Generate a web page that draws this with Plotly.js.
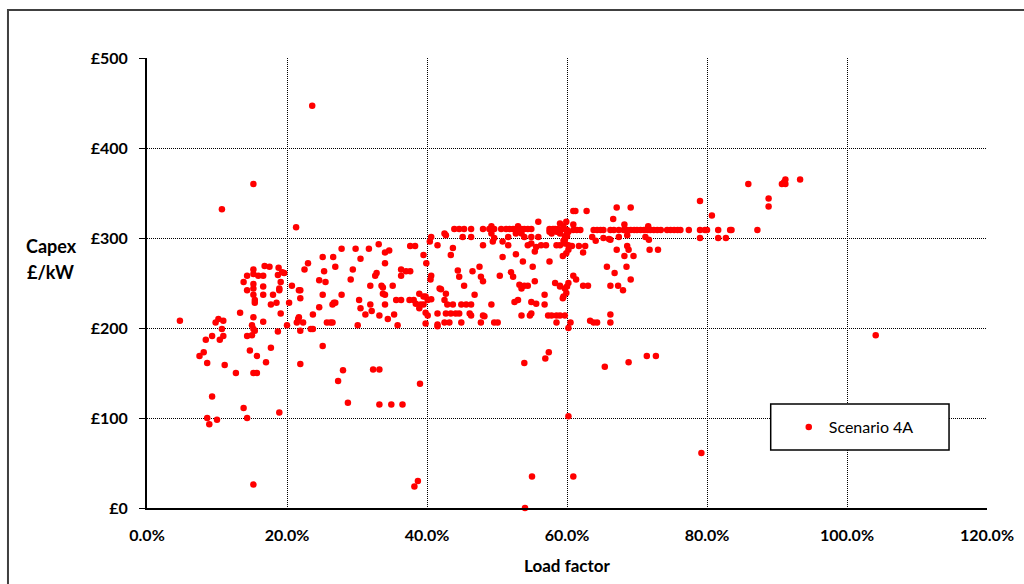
<!DOCTYPE html>
<html><head><meta charset="utf-8">
<script src="https://cdn.plot.ly/plotly-3.0.1.min.js"></script>
<style>html,body{margin:0;padding:0;background:#fff}#chart{width:1024px;height:584px}</style>
</head><body><div id="chart"></div><script>
// Load factor (%) and Capex (£/kW), grouped by region
const lfSparse = [23.6,15.2,10.7,21.3,4.7,15.2,38.2,38.7,54.0,55.0,60.9,60.2,79.2,53.9,56.9,57.4,65.4,68.8,71.4,72.7,39.0,18.9,104.1,9.3,13.8,14.3,8.6,8.9,10.0,27.3,28.7,32.3,33.2,33.2,34.9,36.5];
const capexSparse = [447,360,332,312,208,26,24,30,0,35,35,102,61,161,166,173,157,162,169,169,138,106,192,124,111,100,100,93,98,141,117,154,154,115,115,115];

const lfLow = [15.2,16.8,17.5,14.3,15.2,15.9,16.6,13.8,15.2,16.6,
  14.3,15.2,15.2,16.6,15.4,15.4,18.0,17.7,18.5,18.8,
  18.7,19.3,19.6,19.1,18.9,18.9,20.3,21.7,13.3,15.2,
  15.0,15.2,15.4,15.0,14.3,14.7,15.7,16.6,17.7,17.0,
  18.7,19.1,20.0,21.7,9.8,10.2,10.9,10.7,9.3,8.4,
  10.4,10.9,8.1,7.5,8.6,11.1,12.7,15.2,15.7];
const capexLow = [265,269,268,258,260,258,258,251,249,246,
  242,244,237,237,228,231,237,226,228,267,
  259,262,261,251,244,242,228,242,217,212,
  203,199,197,192,191,175,169,207,178,162,
  196,216,203,212,206,210,208,199,191,187,
  187,191,173,169,161,159,150,150,150];

const lfMid = [27.8,29.8,31.7,33.1,34.0,34.6,25.1,26.6,30.5,23.0,
  22.5,26.9,25.3,29.4,29.1,34.0,32.8,32.6,24.6,25.5,
  31.9,33.5,33.7,35.1,20.7,21.9,21.9,25.1,27.8,33.7,
  34.0,36.3,37.0,37.6,36.3,37.6,38.3,39.5,39.9,40.5,
  40.6,40.4,40.6,38.9,39.5,39.8,35.6,36.3,37.5,38.1,
  38.4,39.1,38.9,39.5,26.7,26.5,26.9,24.6,23.7,30.3,
  30.5,31.9,32.1,31.2,34.0,33.2,34.4,35.3,35.8,30.1,
  21.6,21.4,22.3,21.9,23.4,23.7,25.7,26.2,26.5,25.1,
  21.9,28.0,39.8,41.8];
const capexMid = [288,288,288,293,284,286,279,279,277,272,
  265,268,263,265,254,272,261,258,253,251,
  247,247,245,247,247,242,233,237,237,238,
  237,265,263,263,258,291,291,281,272,254,
  258,296,301,238,235,235,231,231,231,231,
  227,226,222,226,228,226,228,223,215,231,
  222,226,219,215,226,214,210,215,203,203,
  210,206,206,197,199,199,206,206,206,180,
  160,153,217,244];

const lfCore = [43.9,44.6,45.3,46.3,48.0,48.9,49.2,49.6,50.6,51.3,51.8,52.3,52.7,53.2,53.5,53.9,54.4,54.9,57.5,58.0,58.3,58.7,59.4,
  55.9,59.9,49.2,53.0,
  42.5,42.7,45.1,46.3,49.2,49.6,51.6,52.7,53.5,53.9,54.9,55.9,57.5,57.8,58.5,59.0,59.7,60.2,
  41.5,48.0,49.4,50.8,51.6,54.4,54.9,55.6,56.3,57.0,58.5,59.0,59.7,60.2,
  43.7,43.4,55.4,52.7,50.8,60.2,59.9,
  53.7,57.5,55.1,47.5,
  44.4,46.5,50.4,52.0,52.3,47.7,44.6,
  48.0,45.3,53.2,53.9,54.4,55.4,58.3,59.0,60.2,
  42.0,42.7,59.7,59.9,59.4,53.5,53.0,52.5,46.8,40.1,40.6,42.5,56.8,
  43.7,42.9,44.9,45.6,46.3,49.2,54.9,55.6,56.8,
  40.1,41.5,42.7,43.4,44.1,44.6,46.1,46.3,48.0,48.2,53.5,54.7,54.9,57.3,57.8,58.5,59.0,59.7,
  39.8,41.5,41.5,42.5,43.2,44.9,47.7,49.6,50.1,58.5,60.2];
const capexCore = [310,310,310,310,310,310,310,310,310,310,310,310,310,310,310,310,310,310,310,310,310,310,310,
  318,318,313,313,
  305,303,301,301,305,300,301,305,305,301,301,301,307,305,307,305,302,307,
  292,292,296,296,292,292,294,290,292,292,292,292,294,292,
  289,281,285,282,279,287,283,
  274,274,268,268,
  264,263,258,262,257,257,257,
  252,247,248,247,247,252,250,247,250,
  243,238,244,239,233,244,231,229,237,231,232,231,237,
  226,226,226,226,226,226,229,227,226,
  214,216,216,216,216,216,216,214,214,213,214,214,216,214,214,214,214,214,
  205,204,202,206,206,206,206,206,206,206,200];

const lfUpper = [67.1,69.1,60.9,61.2,62.8,66.6,
  60.0,60.9,61.4,61.9,63.8,64.3,64.8,65.2,66.2,66.7,67.4,68.1,68.6,69.1,69.6,70.0,70.5,71.0,71.5,71.9,72.4,72.9,73.4,74.3,74.8,75.3,75.8,76.2,77.4,
  60.9,68.2,71.6,
  63.6,64.1,65.2,66.0,66.2,67.4,68.6,71.2,71.7,59.7,60.0,59.5,
  60.7,61.7,62.6,68.6,
  62.3,67.1,68.8,71.8,73.0,68.2,69.5,59.4,
  65.7,68.5,66.8,60.9,61.3,69.1,
  62.3,63.0,66.2,67.3,68.0,59.0,59.5,60.0,
  60.5,63.3,63.8,64.3,66.2,66.2,
  59.0,59.5,60.0];
const capexUpper = [334,334,330,330,330,321,
  309,309,309,309,309,309,309,309,309,309,309,309,309,309,309,309,309,309,309,309,309,309,309,309,309,309,309,309,309,
  315,315,313,
  301,297,300,299,298,301,303,301,298,298,302,297,
  291,291,291,291,
  284,287,287,287,287,280,280,280,
  268,268,261,258,254,254,
  247,247,247,247,242,246,235,246,
  206,208,206,206,215,206,
  316,313,305];

const lfHigh = [85.9,90.7,91.0,91.2,91.2,93.3,88.8,88.8,80.7,79.0,79.0,79.7,80.0,81.6,83.3,83.5,87.2,79.0,81.6,82.7];
const capexHigh = [360,360,362,365,360,365,344,335,325,341,309,309,309,309,309,309,309,300,300,300];

const seriesName = 'Scenario 4A';
const xTicks = [0,20,40,60,80,100,120];
const xTickLabels = ['0.0%','20.0%','40.0%','60.0%','80.0%','100.0%','120.0%'];
const yTicks = [0,100,200,300,400,500];
const yTickLabels = ['£0','£100','£200','£300','£400','£500'];

const xs = [].concat(lfSparse, lfLow, lfMid, lfCore, lfUpper, lfHigh);
const ys = [].concat(capexSparse, capexLow, capexMid, capexCore, capexUpper, capexHigh);

const FONT = 'Lato, "Open Sans", sans-serif';
const trace = {
  type: 'scatter', mode: 'markers', name: seriesName,
  x: xs, y: ys, cliponaxis: false, showlegend: true,
  marker: {color: '#ff0000', size: 6.5, line: {width: 0}}
};

const layout = {
  width: 1024, height: 584,
  margin: {l: 147, r: 37, t: 58, b: 76},
  paper_bgcolor: '#fff', plot_bgcolor: '#fff',
  font: {family: FONT, color: '#000'},
  showlegend: true,
  xaxis: {
    range: [0, 120], tickmode: 'array', tickvals: xTicks, ticktext: xTickLabels,
    showgrid: true, gridcolor: '#000', griddash: '1px,1px', gridwidth: 1,
    showline: true, linecolor: '#000', linewidth: 2, zeroline: false,
    ticks: '', ticklabelstandoff: 12,
    tickfont: {family: FONT, size: 16, color: '#000', weight: 'bold'},
    title: {text: 'Load factor', standoff: 17, font: {family: FONT, size: 17, color: '#000', weight: 'bold'}},
    fixedrange: true
  },
  yaxis: {
    range: [0, 500], tickmode: 'array', tickvals: yTicks, ticktext: yTickLabels,
    showgrid: true, gridcolor: '#000', griddash: '1px,1px', gridwidth: 1,
    showline: true, linecolor: '#000', linewidth: 2, zeroline: false,
    ticks: 'outside', ticklen: 6, tickcolor: '#000', tickwidth: 1, ticklabelstandoff: 8,
    tickfont: {family: FONT, size: 16, color: '#000', weight: 'bold'},
    fixedrange: true
  },
  legend: {
    x: 0.764, y: 0.18, xanchor: 'left', yanchor: 'middle',
    bgcolor: 'rgba(0,0,0,0)', borderwidth: 0,
    font: {family: FONT, size: 16, color: '#000'}
  },
  shapes: [
    {type: 'rect', xref: 'paper', yref: 'paper', x0: -0.1655, x1: 1.2, y0: -0.3, y1: 1.1067,
     line: {color: '#404040', width: 2}, fillcolor: 'rgba(0,0,0,0)', layer: 'below'},
    {type: 'rect', xref: 'paper', yref: 'paper', x0: 0.7425, x1: 0.9548, y0: 0.1289, y1: 0.2311,
     line: {color: '#000', width: 1.5}, fillcolor: '#fff', layer: 'above'}
  ],
  annotations: [
    {xref: 'paper', yref: 'paper', x: -0.114, y: (508 - 246) / 450, xanchor: 'center', yanchor: 'middle',
     text: 'Capex', showarrow: false, font: {family: FONT, size: 18, color: '#000', weight: 'bold'}},
    {xref: 'paper', yref: 'paper', x: -0.115, y: (508 - 272) / 450, xanchor: 'center', yanchor: 'middle',
     text: '£/kW', showarrow: false, font: {family: FONT, size: 18, color: '#000', weight: 'bold'}}
  ]
};

Plotly.newPlot('chart', [trace], layout, {displayModeBar: false, staticPlot: true});
</script></body></html>
